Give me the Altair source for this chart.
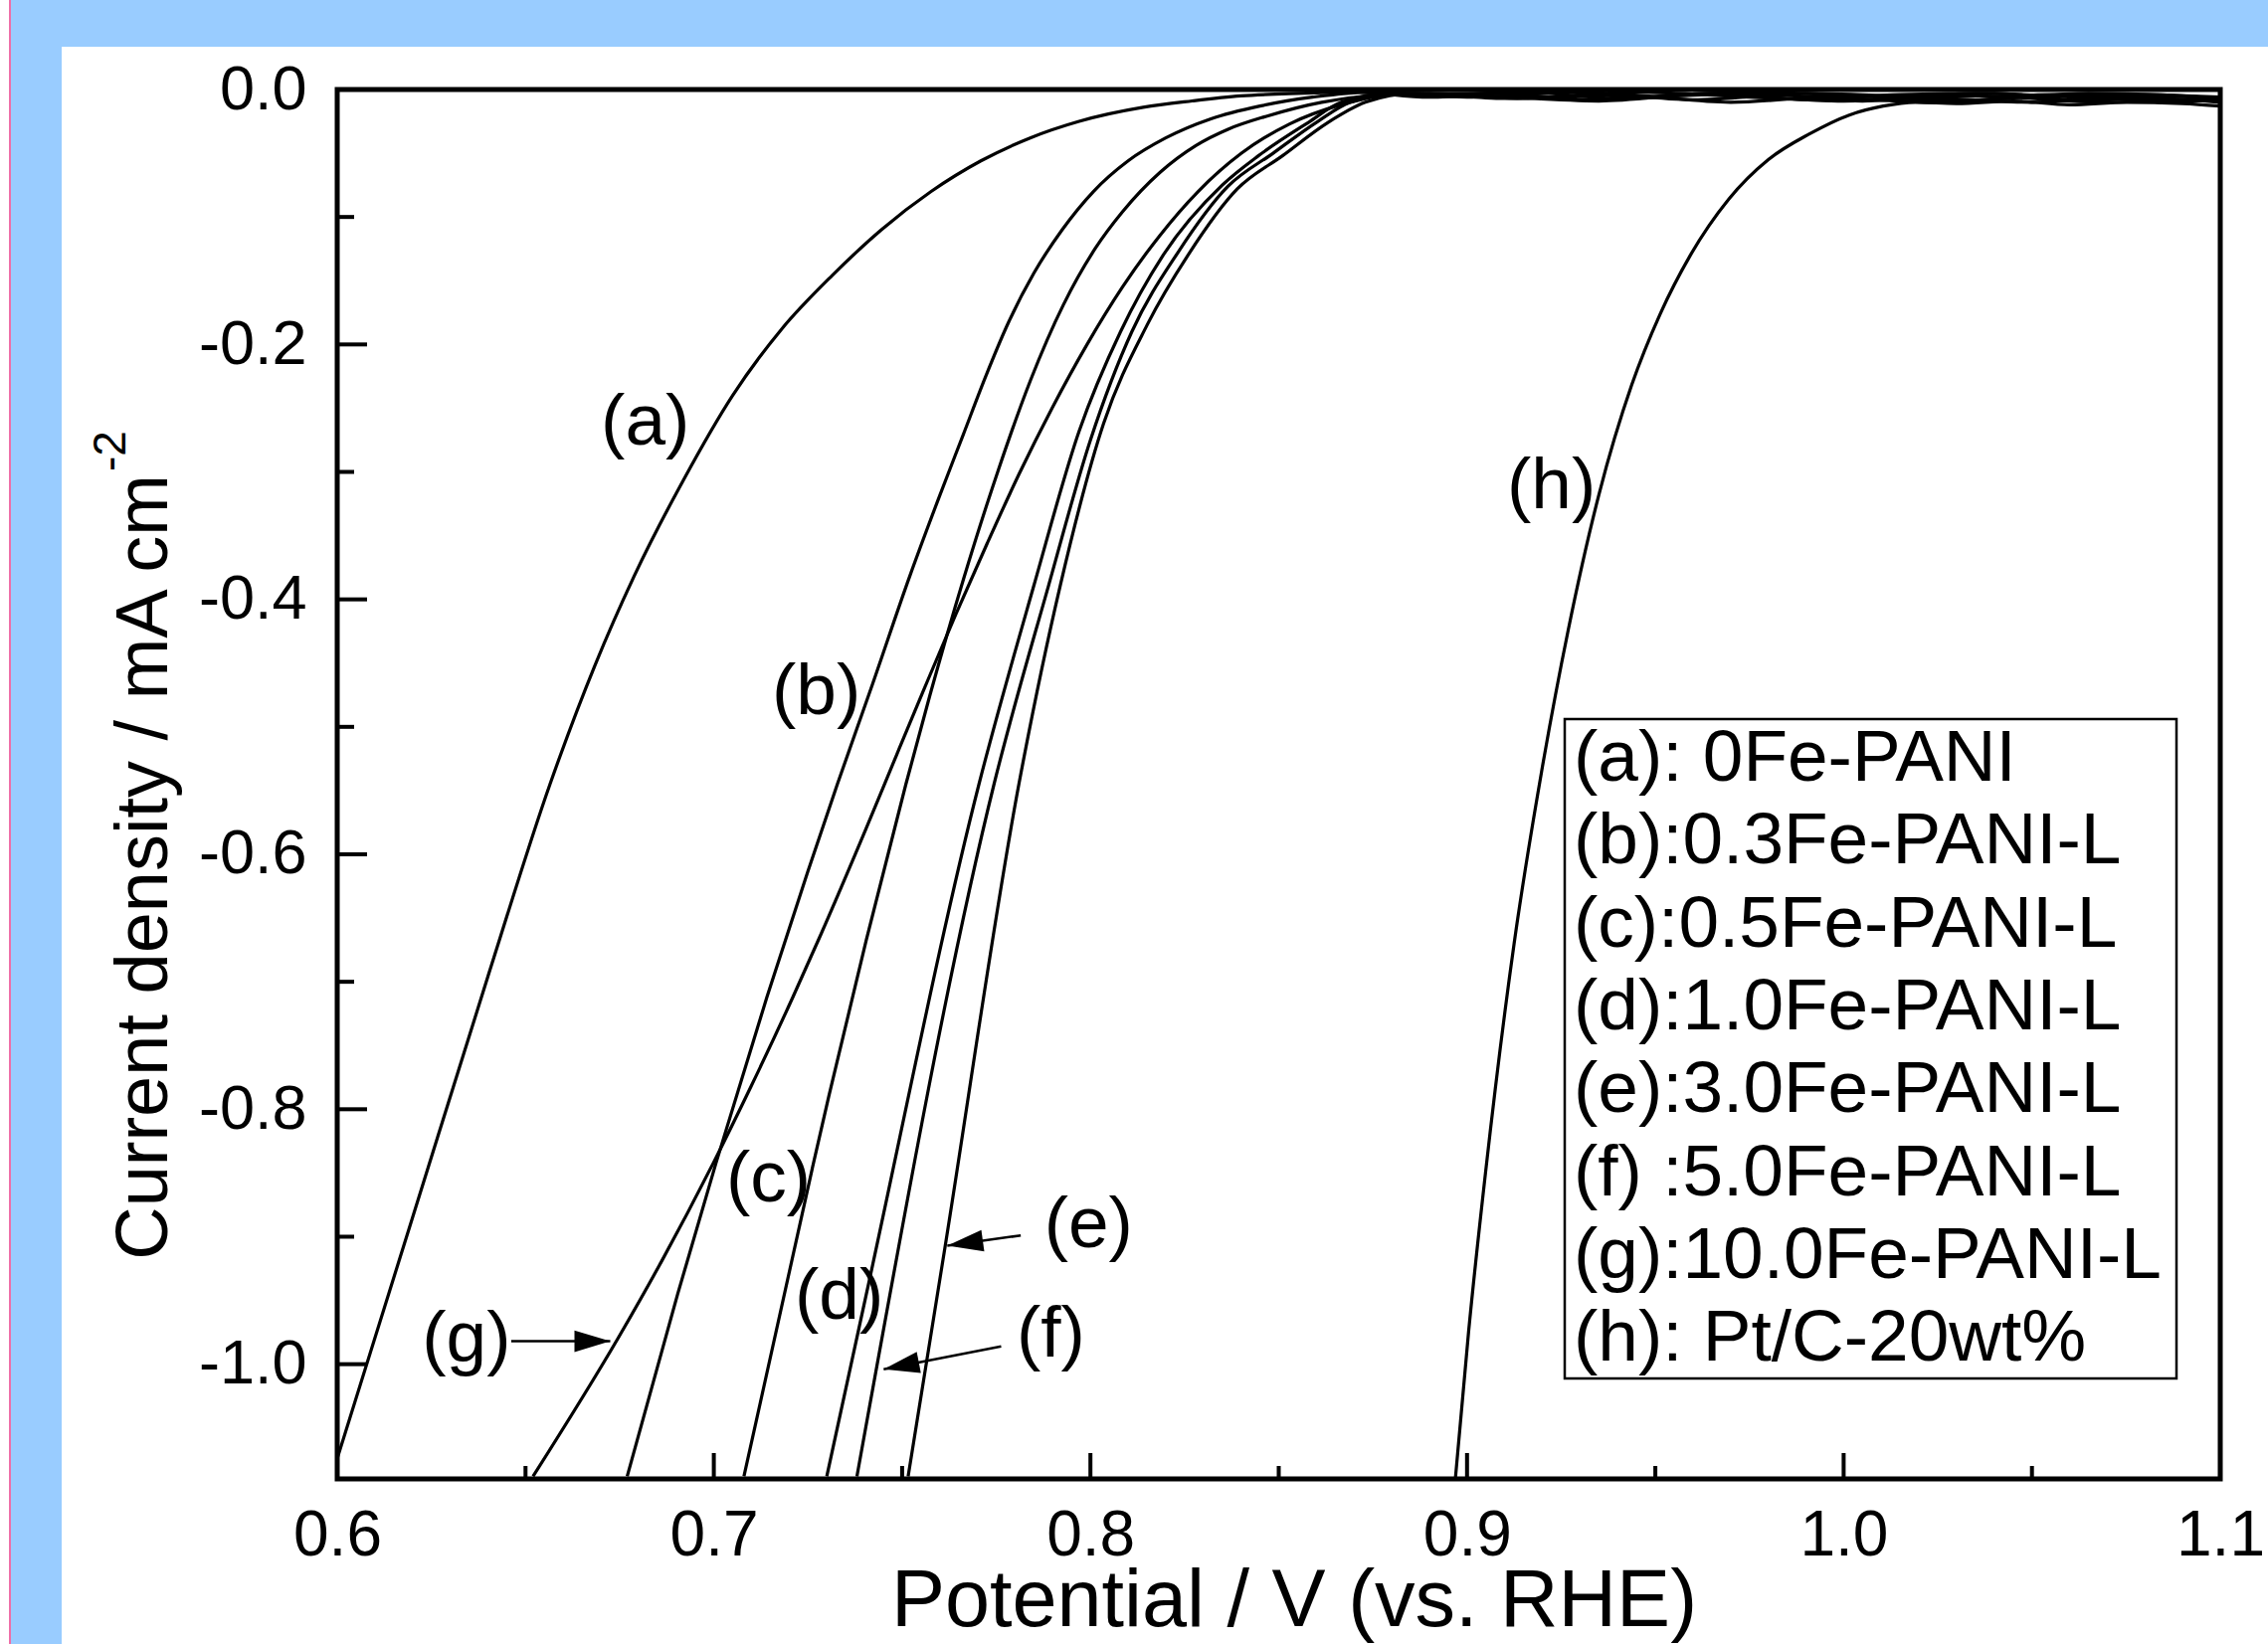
import math
import altair as alt
import pandas as pd

# ---------------- data ----------------
# Potential (V vs. RHE) and current density (mA cm^-2) for each curve
a_V = [0.600, 0.620, 0.640, 0.6565, 0.6684, 0.6788, 0.692, 0.705, 0.718, 0.7314, 0.7445, 0.7577, 0.7709, 0.784, 0.797,
       0.814, 0.827, 0.840, 0.855, 0.870, 0.890, 0.915, 0.940, 0.965, 0.990, 1.015, 1.040, 1.065, 1.085, 1.100]
a_J = [-1.074, -0.885, -0.696, -0.545, -0.452, -0.382, -0.306, -0.240, -0.188, -0.146, -0.110, -0.080, -0.056, -0.038, -0.025,
       -0.014, -0.009, -0.005, -0.003, -0.002, -0.006, -0.002, -0.007, -0.003, -0.008, -0.004, -0.003, -0.009, -0.005, -0.008]

b_V = [0.677, 0.6904, 0.7006, 0.7141, 0.7249, 0.7328, 0.7422, 0.7520, 0.7598, 0.7662, 0.7722, 0.7782, 0.7850, 0.7925,
       0.8008, 0.8100, 0.8200, 0.8320, 0.8450, 0.8590, 0.8740, 0.895, 0.920, 0.945, 0.975, 1.005, 1.035, 1.065, 1.100]
b_J = [-1.088, -0.945, -0.842, -0.712, -0.614, -0.545, -0.466, -0.382, -0.320, -0.271, -0.225, -0.183, -0.144, -0.110,
       -0.080, -0.056, -0.038, -0.023, -0.013, -0.006, -0.002, -0.004, -0.001, -0.006, -0.002, -0.005, -0.008, -0.003, -0.006]

c_V = [0.708, 0.7261, 0.7306, 0.7405, 0.7510, 0.7574, 0.7662, 0.7756, 0.7841, 0.7928, 0.8013, 0.8085, 0.8185, 0.8280,
       0.8367, 0.8467, 0.8614, 0.874, 0.890, 0.915, 0.945, 0.975, 1.005, 1.035, 1.070, 1.100]
c_J = [-1.088, -0.847, -0.789, -0.667, -0.545, -0.475, -0.385, -0.298, -0.228, -0.169, -0.1246, -0.096, -0.065, -0.044,
       -0.031, -0.021, -0.010, -0.005, -0.003, -0.007, -0.002, -0.006, -0.009, -0.003, -0.007, -0.008]

d_V = [0.730, 0.7405, 0.7704, 0.785, 0.797, 0.808, 0.8193, 0.835, 0.8446, 0.8578, 0.8666, 0.880, 0.900, 0.930, 0.960,
       0.990, 1.020, 1.050, 1.080, 1.100]
d_J = [-1.088, -0.945, -0.545, -0.389, -0.268, -0.190, -0.130, -0.075, -0.052, -0.026, -0.010, -0.003, -0.006, -0.002, -0.008,
       -0.003, -0.006, -0.010, -0.004, -0.007]

e_V = [0.7516, 0.7614, 0.781, 0.792, 0.8035, 0.815, 0.8259, 0.839, 0.851, 0.863, 0.873, 0.886, 0.910, 0.940, 0.970,
       1.000, 1.030, 1.060, 1.085, 1.100]
e_J = [-1.088, -0.908, -0.545, -0.389, -0.262, -0.185, -0.130, -0.078, -0.052, -0.026, -0.010, -0.003, -0.007, -0.004, -0.010,
       -0.005, -0.009, -0.004, -0.010, -0.008]

f_V = [0.738, 0.7744, 0.7889, 0.800, 0.811, 0.8232, 0.8365, 0.8485, 0.8604, 0.869, 0.882, 0.905, 0.935, 0.965, 0.995,
       1.025, 1.055, 1.085, 1.100]
f_J = [-1.088, -0.545, -0.389, -0.275, -0.190, -0.128, -0.076, -0.050, -0.025, -0.010, -0.003, -0.005, -0.009, -0.003, -0.006,
       -0.010, -0.004, -0.007, -0.010]

g_V = [0.652, 0.6745, 0.686, 0.6999, 0.7099, 0.721, 0.7284, 0.7404, 0.7484, 0.7556, 0.7642, 0.7726, 0.781, 0.7898, 0.7991,
       0.8085, 0.8183, 0.8286, 0.8401, 0.8529, 0.8665, 0.881, 0.905, 0.935, 0.965, 1.000, 1.035, 1.070, 1.100]
g_J = [-1.088, -0.980, -0.920, -0.842, -0.782, -0.712, -0.663, -0.580, -0.523, -0.472, -0.412, -0.356, -0.302, -0.250, -0.200,
       -0.155, -0.115, -0.080, -0.050, -0.027, -0.012, -0.004, -0.003, -0.008, -0.004, -0.009, -0.005, -0.010, -0.007]

h_V = [0.8969, 0.9004, 0.9049, 0.9125, 0.9198, 0.9268, 0.9350, 0.9437, 0.9513, 0.9593, 0.9695, 0.9800, 0.9908, 1.0015,
       1.0105, 1.019, 1.030, 1.045, 1.060, 1.075, 1.090, 1.100]
h_J = [-1.09, -0.975, -0.85, -0.67, -0.535, -0.425, -0.318, -0.232, -0.176, -0.130, -0.086, -0.055, -0.035, -0.020,
       -0.013, -0.010, -0.011, -0.009, -0.012, -0.010, -0.011, -0.013]

curve_ids = ["a", "b", "c", "d", "e", "f", "g", "h"]
curve_V = [a_V, b_V, c_V, d_V, e_V, f_V, g_V, h_V]
curve_J = [a_J, b_J, c_J, d_J, e_J, f_J, g_J, h_J]

legend_labels = ["(a): 0Fe-PANI", "(b):0.3Fe-PANI-L", "(c):0.5Fe-PANI-L", "(d):1.0Fe-PANI-L",
                 "(e):3.0Fe-PANI-L", "(f) :5.0Fe-PANI-L", "(g):10.0Fe-PANI-L", "(h): Pt/C-20wt%"]

# curve tags placed in data space
tag_text = ["(a)", "(b)", "(c)", "(d)", "(e)", "(f)", "(g)", "(h)"]
tag_V = [0.6818, 0.7272, 0.7145, 0.7333, 0.7995, 0.7895, 0.6343, 0.9224]
tag_J = [-0.261, -0.473, -0.855, -0.947, -0.891, -0.977, -0.981, -0.3115]

# arrows (tail -> tip) in data space
arrow_tail_V = [0.6462, 0.7815, 0.7763]
arrow_tail_J = [-0.982, -0.899, -0.986]
arrow_tip_V = [0.6725, 0.7620, 0.7451]
arrow_tip_J = [-0.982, -0.907, -1.004]

x_major = [0.6, 0.7, 0.8, 0.9, 1.0, 1.1]
x_minor = [0.65, 0.75, 0.85, 0.95, 1.05]
y_major = [0.0, -0.2, -0.4, -0.6, -0.8, -1.0]
y_minor = [-0.1, -0.3, -0.5, -0.7, -0.9]

x_title = "Potential / V (vs. RHE)"
y_title = "Current density / mA cm"
y_title_sup = "-2"

# ---------------- layout ----------------
W, H = 1893, 1397
PAD = {"left": 339, "top": 90, "right": 48, "bottom": 166}
X_DOMAIN = [0.6, 1.1]
Y_DOMAIN = [-1.09, 0.0]
FONT = "Liberation Sans"
px_per_V = W / (X_DOMAIN[1] - X_DOMAIN[0])
px_per_J = H / (Y_DOMAIN[1] - Y_DOMAIN[0])

rows = []
for cid, vs, js in zip(curve_ids, curve_V, curve_J):
    for v, j in zip(vs, js):
        rows.append({"curve": cid, "V": v, "J": j})
df = pd.DataFrame(rows)

xs = alt.Scale(domain=X_DOMAIN, nice=False, zero=False)
ys = alt.Scale(domain=Y_DOMAIN, nice=False, zero=False)

X_AXIS = alt.Axis(
    values=x_major, title=None, grid=False, domain=False, ticks=False, tickSize=0,
    labelFont=FONT, labelFontSize=64, labelColor="black", labelPadding=25,
    labelFlush=False, labelOverlap=False, labelExpr="format(datum.value, '.1f')")
Y_AXIS = alt.Axis(
    values=y_major, title=None, grid=False, domain=False, ticks=False, tickSize=0,
    labelFont=FONT, labelFontSize=63, labelColor="black", labelPadding=31,
    labelFlush=False, labelOverlap=False,
    labelExpr="replace(format(datum.value, '.1f'), '\u2212', '-')")


def X(field):
    return alt.X(field, scale=xs, axis=X_AXIS)


def Y(field):
    return alt.Y(field, scale=ys, axis=Y_AXIS)


lines = alt.Chart(df).mark_line(
    color="black", strokeWidth=3.2, interpolate="monotone", clip=True
).encode(x=X("V:Q"), y=Y("J:Q"), detail="curve:N")

# inward ticks
xmaj = alt.Chart(pd.DataFrame({"V": x_major})).mark_rule(color="black", strokeWidth=4).encode(
    x=X("V:Q"), y=alt.value(H), y2=alt.value(H - 26))
xmin = alt.Chart(pd.DataFrame({"V": x_minor})).mark_rule(color="black", strokeWidth=4).encode(
    x=X("V:Q"), y=alt.value(H), y2=alt.value(H - 13))
ymaj = alt.Chart(pd.DataFrame({"J": y_major})).mark_rule(color="black", strokeWidth=4).encode(
    y=Y("J:Q"), x=alt.value(0), x2=alt.value(30))
ymin = alt.Chart(pd.DataFrame({"J": y_minor})).mark_rule(color="black", strokeWidth=4).encode(
    y=Y("J:Q"), x=alt.value(0), x2=alt.value(17))

# curve tags
tags = alt.Chart(pd.DataFrame({"t": tag_text, "V": tag_V, "J": tag_J})).mark_text(
    font=FONT, fontSize=73, color="black", align="center", baseline="middle"
).encode(x=X("V:Q"), y=Y("J:Q"), text="t:N")

# arrows
arr = pd.DataFrame({"V": arrow_tail_V, "J": arrow_tail_J, "V2": arrow_tip_V, "J2": arrow_tip_J})
arr["ang"] = [
    math.degrees(math.atan2(-(j2 - j1) * px_per_J, (v2 - v1) * px_per_V)) % 360
    for v1, j1, v2, j2 in zip(arrow_tail_V, arrow_tail_J, arrow_tip_V, arrow_tip_J)
]
shafts = alt.Chart(arr).mark_rule(color="black", strokeWidth=2.5).encode(
    x=X("V:Q"), y=Y("J:Q"), x2="V2:Q", y2="J2:Q")
heads_df = pd.DataFrame({"V": arrow_tip_V, "J": arrow_tip_J, "ang": arr["ang"]})
heads = alt.Chart(heads_df).mark_point(
    shape="M0,0 L-2,-0.6 L-2,0.6 Z", filled=True, color="black", opacity=1, size=1296, strokeWidth=0
).encode(x=X("V:Q"), y=Y("J:Q"), angle=alt.Angle("ang:Q", scale=None))

one = pd.DataFrame({"k": [0]})

# legend box and text
leg_box = alt.Chart(one).mark_rect(fill="white", stroke="black", strokeWidth=2.5).encode(
    x=alt.value(1234), x2=alt.value(1849), y=alt.value(633), y2=alt.value(1296))
leg_text = alt.Chart(one).mark_text(
    text=legend_labels, font=FONT, fontSize=73, color="black", align="left", baseline="middle",
    lineHeight=83.3
).encode(x=alt.value(1243), y=alt.value(673))

# axis titles
xt = alt.Chart(one).mark_text(
    text=x_title, font=FONT, fontSize=81, color="black", align="center", baseline="alphabetic"
).encode(x=alt.value(962), y=alt.value(1545))
yt = alt.Chart(one).mark_text(
    text=y_title, font=FONT, fontSize=74, color="black", align="center", baseline="alphabetic", angle=270
).encode(x=alt.value(-171), y=alt.value(782))
yt_sup = alt.Chart(one).mark_text(
    text=y_title_sup, font=FONT, fontSize=46, color="black", align="left", baseline="alphabetic", angle=270
).encode(x=alt.value(-213), y=alt.value(384))

# page decoration (blue strips and thin pink line)
top_strip = alt.Chart(one).mark_rect(color="#99CCFF").encode(
    x=alt.value(-328), x2=alt.value(W + PAD["right"]), y=alt.value(-PAD["top"]), y2=alt.value(-43))
left_strip = alt.Chart(one).mark_rect(color="#99CCFF").encode(
    x=alt.value(-328), x2=alt.value(-277), y=alt.value(-PAD["top"]), y2=alt.value(H + PAD["bottom"]))
pink = alt.Chart(one).mark_rect(color="#EE6FA8").encode(
    x=alt.value(-330), x2=alt.value(-328), y=alt.value(-PAD["top"]), y2=alt.value(H + PAD["bottom"]))

chart = alt.layer(
    top_strip, left_strip, pink,
    lines, xmaj, xmin, ymaj, ymin, tags, shafts, heads,
    leg_box, leg_text, xt, yt, yt_sup,
).properties(
    width=W, height=H, padding=PAD, background="white",
    autosize=alt.AutoSizeParams(type="none"),
).configure_view(
    stroke="black", strokeWidth=5
)

chart.save("out.html", embed_options={"renderer": "svg", "actions": False})
